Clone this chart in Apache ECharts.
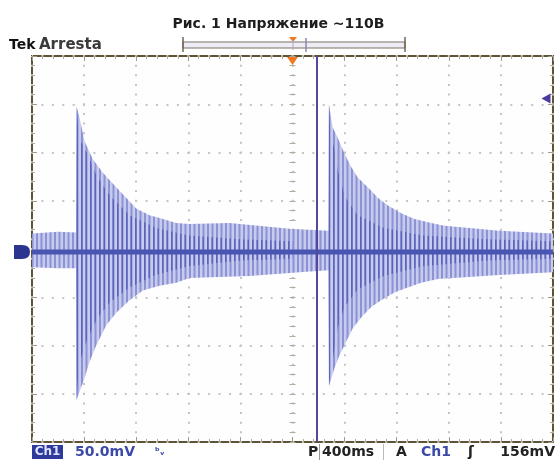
<!DOCTYPE html>
<html><head><meta charset="utf-8">
<script src="https://cdn.jsdelivr.net/npm/echarts@6/dist/echarts.min.js"></script>
<style>html,body{margin:0;padding:0;background:#fff;}#c{width:557px;height:460px;}</style>
</head><body><div id="c"></div>
<script>
// ---- text ----
const titleText = 'Рис. 1 Напряжение ~110В';
const brandText = ['Tek', 'Arresta'];
const bottomTexts = ['Ch1', '50.0mV', 'P', '400ms', 'A', 'Ch1', '156mV'];

// ---- axes (ms, mV): 400 ms/div, 50 mV/div ----
const timeMin = -2000, timeMax = 2000, timeDiv = 400;
const voltMin = -200, voltMax = 200, voltDiv = 50;
const cursorTime = 190;      // vertical cursor
const triggerTime = 0;       // trigger position
const triggerLevel = 156;    // mV
const baselineMv = -3;       // ground level of Ch1

// ---- outer envelope of the signal ----
const upperT = [-2000, -1800, -1662, -1658, -1635, -1597, -1533, -1456, -1380, -1277, -1200, -1098, -1021, -893, -791, -484, -23, 276, 279, 309, 348, 399, 451, 501, 578, 655, 732, 835, 937, 1065, 1167, 1589, 2000];
const upperV = [16, 18, 17, 148, 136, 112, 93, 79, 68, 53, 42, 35, 32, 27, 26, 27, 21, 19, 150, 126, 115, 99, 85, 74, 64, 53, 45, 37, 31, 27, 24, 19, 16];
const lowerT = [-2000, -1800, -1662, -1660, -1635, -1597, -1559, -1507, -1430, -1353, -1251, -1149, -1021, -893, -791, -330, 54, 276, 280, 323, 361, 412, 463, 527, 604, 681, 783, 885, 988, 1116, 1589, 2000];
const lowerV = [-19, -20, -20, -157, -148, -134, -117, -100, -79, -66, -53, -43, -38, -35, -30, -28, -24, -22, -142, -123, -110, -96, -82, -71, -60, -53, -45, -40, -35, -31, -27, -24];

// ---- inner (dense, darker) part of each burst ----
const inner1T = [-1662, -1658, -1640, -1580, -1500, -1400, -1250, -1050, -800, -400, 0];
const inner1Up = [0, 148, 115, 100, 75, 55, 35, 22, 14, 10, 8];
const inner1Lo = [0, -157, -120, -95, -72, -55, -40, -27, -18, -12, -10];
const inner2T = [276, 280, 290, 320, 350, 400, 500, 700, 1000, 1500, 2000];
const inner2Up = [0, 150, 120, 105, 80, 55, 35, 22, 14, 10, 8];
const inner2Lo = [0, -142, -130, -105, -80, -60, -42, -28, -18, -12, -10];

function stripes(bg, fg, w) {
  const c = document.createElement('canvas');
  c.width = 9; c.height = 4;
  const ctx = c.getContext('2d');
  if (bg) { ctx.fillStyle = bg; ctx.fillRect(0, 0, 9, 4); }
  ctx.fillStyle = fg;
  ctx.fillRect(0, 0, w, 4);
  ctx.fillRect(4.5, 0, w, 4);
  return { image: c, repeat: 'repeat' };
}
const outerFill = stripes('#c8cbee', '#8c93d5', 2);
const innerFill = stripes(null, '#5a64ba', 1.5);

function band(upT, upV, loT, loV, fill) {
  return {
    type: 'custom', silent: true, clip: true, data: [[0, 0]],
    renderItem: function (params, api) {
      const pts = [];
      for (let i = 0; i < upT.length; i++) pts.push(api.coord([upT[i], upV[i]]));
      for (let i = loT.length - 1; i >= 0; i--) pts.push(api.coord([loT[i], loV[i]]));
      return { type: 'polygon', shape: { points: pts, smooth: 0 }, style: { fill: fill } };
    }
  };
}

const frameColor = '#5f5336';
const gridDot = '#c4c4c4';
function xAx(extra) {
  return Object.assign({
    type: 'value', min: timeMin, max: timeMax, interval: timeDiv,
    axisLabel: { show: false }, splitLine: { show: false },
    axisLine: { show: false, onZero: false },
    axisTick: { show: true, inside: true, length: 5, lineStyle: { color: '#a29a86', width: 1 } },
    minorTick: { show: true, splitNumber: 5, length: 3, lineStyle: { color: '#b0aa9a', width: 1 } }
  }, extra);
}
function yAx(extra) {
  return Object.assign({
    type: 'value', min: voltMin, max: voltMax, interval: voltDiv,
    axisLabel: { show: false }, splitLine: { show: false },
    axisLine: { show: false, onZero: false },
    axisTick: { show: true, inside: true, length: 5, lineStyle: { color: '#a29a86', width: 1 } },
    minorTick: { show: true, splitNumber: 5, length: 3, lineStyle: { color: '#b0aa9a', width: 1 } }
  }, extra);
}
const centerTick = { show: true, inside: true, length: 3, lineStyle: { color: '#b0aa9a' } };
const centerMinor = { show: true, splitNumber: 5, length: 3, lineStyle: { color: '#b0aa9a' } };

const font = '"DejaVu Sans", sans-serif';
const chart = echarts.init(document.getElementById('c'), null, { renderer: 'canvas' });
chart.setOption({
  backgroundColor: '#ffffff',
  animation: false,
  title: {
    text: titleText, left: 'center', top: 12,
    textStyle: { fontFamily: font, fontSize: 14, fontWeight: 'bold', color: '#1e1e1e' }
  },
  grid: { left: 32, top: 56, width: 521, height: 386, show: true, borderColor: frameColor, borderWidth: 2, backgroundColor: '#fefefe' },
  xAxis: [
    xAx({ position: 'bottom', splitLine: { show: true, lineStyle: { color: gridDot, width: 2, type: [2, 7.65], dashOffset: 1 } } }),
    xAx({ position: 'top' }),
    xAx({ position: 'bottom', axisLine: { show: false, onZero: true, onZeroAxisIndex: 0 }, axisTick: centerTick, minorTick: centerMinor }),
    xAx({ position: 'top', axisLine: { show: false, onZero: true, onZeroAxisIndex: 0 }, axisTick: centerTick, minorTick: centerMinor })
  ],
  yAxis: [
    yAx({ position: 'left', splitLine: { show: true, lineStyle: { color: gridDot, width: 2, type: [2, 8.42], dashOffset: 1 } } }),
    yAx({ position: 'right' }),
    yAx({ position: 'left', axisLine: { show: false, onZero: true, onZeroAxisIndex: 0 }, axisTick: centerTick, minorTick: centerMinor }),
    yAx({ position: 'right', axisLine: { show: false, onZero: true, onZeroAxisIndex: 0 }, axisTick: centerTick, minorTick: centerMinor })
  ],
  series: [
    band(upperT, upperV, lowerT, lowerV, outerFill),
    band(inner1T, inner1Up, inner1T, inner1Lo, innerFill),
    band(inner2T, inner2Up, inner2T, inner2Lo, innerFill),
    {
      type: 'line', silent: true, symbol: 'none', clip: false,
      data: [[timeMin, baselineMv], [timeMax, baselineMv]],
      lineStyle: { color: '#4856b2', width: 5 },
      markPoint: {
        silent: true, label: { show: false },
        data: [
          { coord: [timeMin, baselineMv], symbol: 'path://M0,0 L9,0 Q18,0 18,8 Q18,16 9,16 L0,16 Z', symbolSize: [16, 14], symbolOffset: [-10, 0], itemStyle: { color: '#2b3590' } },
          { coord: [triggerTime, voltMax], symbol: 'triangle', symbolRotate: 180, symbolSize: [11, 8], symbolOffset: [0, 5], itemStyle: { color: '#f07a22' } },
          { coord: [timeMax, triggerLevel], symbol: 'triangle', symbolRotate: 90, symbolSize: [10, 9], symbolOffset: [-7, 0], itemStyle: { color: '#4a3a9c' } }
        ]
      },
      markLine: {
        silent: true, symbol: 'none', label: { show: false },
        lineStyle: { color: '#55489c', width: 2, type: 'solid' },
        data: [{ xAxis: cursorTime }]
      }
    }
  ],
  graphic: [
    { type: 'text', x: 9, y: 45, style: { text: brandText[0], font: 'bold 14px ' + font, fill: '#111', textVerticalAlign: 'middle' } },
    { type: 'text', x: 39, y: 45, style: { text: brandText[1], font: 'bold 15px ' + font, fill: '#3a3a3a', textVerticalAlign: 'middle' } },
    { type: 'rect', shape: { x: 183, y: 42, width: 222, height: 6 }, style: { fill: '#eeedf6', stroke: '#7c7264', lineWidth: 1.2 } },
    { type: 'line', shape: { x1: 183, y1: 37, x2: 183, y2: 52 }, style: { stroke: '#6e6454', lineWidth: 1.5 } },
    { type: 'line', shape: { x1: 405, y1: 37, x2: 405, y2: 52 }, style: { stroke: '#6e6454', lineWidth: 1.5 } },
    { type: 'line', shape: { x1: 306, y1: 38, x2: 306, y2: 52 }, style: { stroke: '#8f86ae', lineWidth: 1.5 } },
    { type: 'polygon', shape: { points: [[289, 37], [297, 37], [293, 42]] }, style: { fill: '#f07a22' } },
    { type: 'line', shape: { x1: 293, y1: 40, x2: 293, y2: 50 }, style: { stroke: '#b0a8c8', lineWidth: 1 } },
    // bottom status line
    { type: 'rect', shape: { x: 32, y: 445, width: 31, height: 14 }, style: { fill: '#2d3a9c' } },
    { type: 'text', x: 47.5, y: 452, style: { text: bottomTexts[0], font: 'bold 12px ' + font, fill: '#dfe3ff', textAlign: 'center', textVerticalAlign: 'middle' } },
    { type: 'text', x: 75, y: 452, style: { text: bottomTexts[1], font: 'bold 14px ' + font, fill: '#3b49a8', textVerticalAlign: 'middle' } },
    { type: 'text', x: 155, y: 452, style: { text: 'ᵇᵥ', font: 'bold 10px ' + font, fill: '#3b49a8', textVerticalAlign: 'middle' } },
    { type: 'text', x: 308, y: 452, style: { text: bottomTexts[2], font: 'bold 14px ' + font, fill: '#222', textVerticalAlign: 'middle' } },
    { type: 'line', shape: { x1: 319.5, y1: 444, x2: 319.5, y2: 460 }, style: { stroke: '#999', lineWidth: 1 } },
    { type: 'text', x: 322, y: 452, style: { text: bottomTexts[3], font: 'bold 14px ' + font, fill: '#222', textVerticalAlign: 'middle' } },
    { type: 'line', shape: { x1: 383.5, y1: 444, x2: 383.5, y2: 460 }, style: { stroke: '#bbb', lineWidth: 1 } },
    { type: 'text', x: 396, y: 452, style: { text: bottomTexts[4], font: 'bold 14px ' + font, fill: '#222', textVerticalAlign: 'middle' } },
    { type: 'text', x: 421, y: 452, style: { text: bottomTexts[5], font: 'bold 14px ' + font, fill: '#3b49a8', textVerticalAlign: 'middle' } },
    { type: 'text', x: 468, y: 452, style: { text: 'ʃ', font: 'bold 14px ' + font, fill: '#222', textVerticalAlign: 'middle' } },
    { type: 'text', x: 555, y: 452, style: { text: bottomTexts[6], font: 'bold 14px ' + font, fill: '#222', textAlign: 'right', textVerticalAlign: 'middle' } }
  ]
});
</script></body></html>
